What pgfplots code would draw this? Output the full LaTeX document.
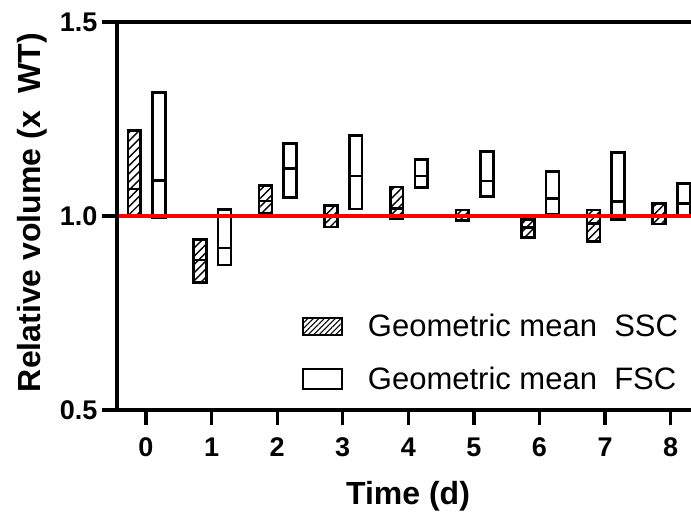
\documentclass[border=0pt]{standalone}
\usepackage{pgfplots}
\pgfplotsset{compat=1.18}
\usetikzlibrary{patterns.meta}
\usepackage{fontspec}
\setmainfont{Liberation Sans}

% One floating box per series and day: centre, low end, geometric mean, high end
\newcommand{\rangebox}[5]{%
  \pgfmathsetmacro\xl{#2-0.0975}%
  \pgfmathsetmacro\xr{#2+0.0975}%
  \addplot[#1, forget plot] coordinates {(\xl,#3) (\xr,#3) (\xr,#5) (\xl,#5)} -- cycle;
  \addplot[draw=black, line width=2.5pt, forget plot] coordinates {(\xl,#4) (\xr,#4)};}

\pgfplotsset{
  ssc/.style={draw=black, line width=2.6pt, line join=miter,
    pattern={Lines[angle=45,distance=5.8pt,line width=1.4pt]}, pattern color=black},
  fsc/.style={draw=black, line width=2.6pt, line join=miter, fill=none},
}

\begin{document}
\begin{tikzpicture}
\begin{axis}[
  name=ax,
  scale only axis, width=574pt, height=388pt,
  xmin=-0.442, xmax=8.31, ymin=0.5, ymax=1.5,
  axis x line=box, axis y line=left,
  axis line style={-, line width=3.2pt, black},
  axis on top, clip=false,
  tick pos=left, tick align=outside,
  major tick length=15pt,
  tick style={line width=3.2pt, black},
  xtick={0,...,8},
  ytick={0.5,1,1.5}, yticklabels={0.5,1.0,1.5},
  /pgf/number format/assume math mode=true,
  ticklabel style={font=\fontsize{27}{31}\selectfont\bfseries},
  xticklabel style={yshift=-9pt},
  yticklabel style={xshift=-1pt},
  xlabel={Time (d)}, ylabel={Relative volume (x\ \ WT)},
  label style={font=\fontsize{32}{38}\selectfont\bfseries},
  xlabel style={at={(rel axis cs:0.507,-0.2448)}, anchor=base},
  ylabel style={at={(rel axis cs:-0.1324,0.509)}, anchor=base},
  legend style={draw=none, fill=none, at={(axis cs:2.332,0.752)}, anchor=north west,
    font=\fontsize{31}{36}\selectfont, row sep=29pt,
    nodes={inner sep=0pt},
    /tikz/every odd column/.append style={column sep=25pt}},
  legend cell align=left,
]
% SSC
\rangebox{ssc}{-0.177}{1.000}{1.070}{1.220}
\rangebox{ssc}{0.823}{0.828}{0.886}{0.939}
\rangebox{ssc}{1.823}{1.007}{1.039}{1.079}
\rangebox{ssc}{2.823}{0.972}{0.997}{1.027}
\rangebox{ssc}{3.823}{0.993}{1.019}{1.075}
\rangebox{ssc}{4.823}{0.988}{1.002}{1.015}
\rangebox{ssc}{5.823}{0.944}{0.970}{0.991}
\rangebox{ssc}{6.823}{0.934}{0.981}{1.015}
\rangebox{ssc}{7.823}{0.979}{1.000}{1.032}
% FSC
\rangebox{fsc}{0.197}{0.996}{1.092}{1.319}
\rangebox{fsc}{1.197}{0.874}{0.918}{1.016}
\rangebox{fsc}{2.197}{1.047}{1.123}{1.187}
\rangebox{fsc}{3.197}{1.018}{1.103}{1.208}
\rangebox{fsc}{4.197}{1.074}{1.103}{1.146}
\rangebox{fsc}{5.197}{1.050}{1.090}{1.167}
\rangebox{fsc}{6.197}{1.005}{1.045}{1.114}
\rangebox{fsc}{7.197}{0.991}{1.038}{1.163}
\rangebox{fsc}{8.197}{0.998}{1.032}{1.083}
% wild type reference level
\addplot[red, line width=3.8pt, forget plot] coordinates {(-0.442,1) (8.31,1)};
% legend
\addlegendimage{legend image code/.code={%
  \draw[line width=1.8pt, pattern={Lines[angle=45,distance=3.9pt,line width=1.1pt]}]
    (0pt,-8.5pt) rectangle (39pt,8.5pt);}}
\addlegendentry{Geometric mean\ \ SSC}
\addlegendimage{legend image code/.code={%
  \draw[line width=1.8pt] (0pt,-10pt) rectangle (39pt,10pt);}}
\addlegendentry{Geometric mean\ \ FSC}
\end{axis}
\pgfresetboundingbox
\useasboundingbox ([xshift=-117pt,yshift=-106pt]ax.south west) rectangle ([yshift=22pt]ax.north east);
\end{tikzpicture}
\end{document}
